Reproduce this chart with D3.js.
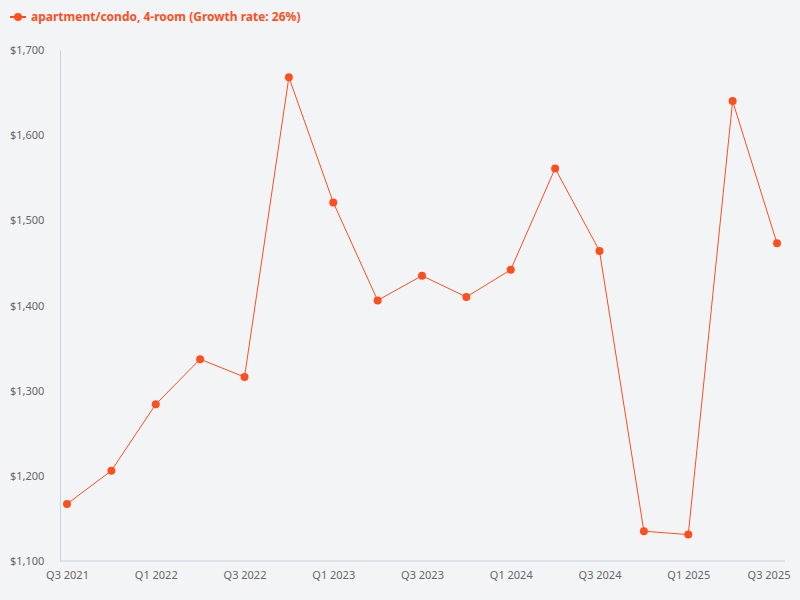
<!DOCTYPE html><html><head><script src="https://cdn.jsdelivr.net/npm/d3@7"></script>
<style>body{margin:0;background:#f3f4f6;font-family:"Noto Sans",sans-serif}</style></head><body><svg id="c" width="800" height="600"></svg>
<script>
const quarters=["Q3 2021","Q4 2021","Q1 2022","Q2 2022","Q3 2022","Q4 2022","Q1 2023","Q2 2023","Q3 2023","Q4 2023","Q1 2024","Q2 2024","Q3 2024","Q4 2024","Q1 2025","Q2 2025","Q3 2025"];
const values=[1167,1206,1284,1337,1316,1668,1521,1406,1435,1410,1442,1561,1464,1135,1131,1640,1473];
const yTicks=[1100,1200,1300,1400,1500,1600,1700];
const seriesName="apartment/condo, 4-room (Growth rate: 26%)";
const color="#ff4f1f";
const svg=d3.select("#c");
svg.append("rect").attr("width",800).attr("height",600).attr("fill","#f3f4f6");
const x=d3.scalePoint().domain(quarters).range([67,777]);
const y=d3.scaleLinear().domain([1100,1700]).range([561,50]);
const fmt=d=>"$"+d3.format(",")(d);
const ya=svg.append("g").attr("transform","translate(60,0)").call(d3.axisLeft(y).tickValues(yTicks).tickFormat(fmt).tickSize(0).tickPadding(8));
ya.select(".domain").attr("stroke","#c8d3e0");
ya.selectAll("text").attr("font-family","Noto Sans").attr("font-size",11).attr("fill","#666").attr("text-anchor","start").attr("x",-50);
const xa=svg.append("g").attr("transform","translate(0,561)").call(d3.axisBottom(x).tickValues(quarters.filter((d,i)=>i%2==0)).tickSize(0).tickPadding(10));
xa.select(".domain").attr("stroke","#c8d3e0").attr("d","M60,0H785");
xa.selectAll("text").attr("font-family","Noto Sans").attr("font-size",11).attr("fill","#666");
xa.selectAll(".tick").filter(d=>d==="Q3 2025").select("text").attr("text-anchor","end").attr("x",13);
svg.append("path").datum(values).attr("fill","none").attr("stroke",color).attr("stroke-width",1)
 .attr("d",d3.line().x((d,i)=>x(quarters[i])).y(d=>y(d)));
svg.selectAll("circle.p").data(values).join("circle").attr("cx",(d,i)=>x(quarters[i])).attr("cy",d=>y(d)).attr("r",4).attr("fill",color);
const lg=svg.append("g").attr("transform","translate(10,17)");
lg.append("line").attr("x1",0).attr("x2",16).attr("stroke",color).attr("stroke-width",2);
lg.append("circle").attr("cx",8).attr("r",4).attr("fill",color);
lg.append("text").attr("x",21).attr("dy","0.35em").attr("font-size",12).attr("font-weight","bold").attr("fill",color).text(seriesName);
</script></body></html>
